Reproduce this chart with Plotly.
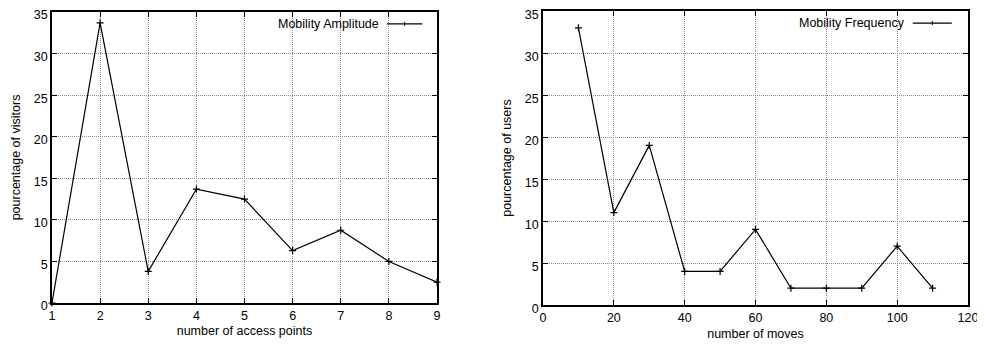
import plotly.graph_objects as go

# Left chart: Mobility Amplitude
ap_x = [1, 2, 3, 4, 5, 6, 7, 8, 9]
ap_y = [0, 33.7, 3.8, 13.7, 12.5, 6.3, 8.75, 5.0, 2.5]
left_xticks = [1, 2, 3, 4, 5, 6, 7, 8, 9]

# Right chart: Mobility Frequency
mv_x = [10, 20, 30, 40, 50, 60, 70, 80, 90, 100, 110]
mv_y = [33, 11, 19, 4, 4, 9, 2, 2, 2, 7, 2]
right_xticks = [0, 20, 40, 60, 80, 100, 120]
y_ticks = [0, 5, 10, 15, 20, 25, 30, 35]

FONT = "Liberation Sans, Arial, sans-serif"

fig = go.Figure()
line_style = dict(color="black", width=1.2)
marker_style = dict(symbol="cross-thin", size=5, line=dict(color="black", width=1.2), color="black")

fig.add_trace(go.Scatter(x=ap_x, y=ap_y, mode="lines+markers", line=line_style,
                         marker=marker_style, name="Mobility Amplitude",
                         xaxis="x", yaxis="y", showlegend=False, cliponaxis=False))
fig.add_trace(go.Scatter(x=mv_x, y=mv_y, mode="lines+markers", line=line_style,
                         marker=marker_style, name="Mobility Frequency",
                         xaxis="x2", yaxis="y2", showlegend=False, cliponaxis=False))

axis_common = dict(showline=True, linecolor="black", linewidth=1.5, mirror="ticks",
                   ticks="inside", ticklen=5, tickcolor="black", tickwidth=1,
                   showgrid=True, gridcolor="#8c8c8c", griddash="1px,1px", gridwidth=1,
                   zeroline=False, automargin=False, ticklabeloverflow="allow",
                   tickfont=dict(family=FONT, size=12.5, color="black"),
                   title_font=dict(family=FONT, size=12.5, color="black"))

# The page body adds an 8px margin, so the figure is 8px smaller and domains are offset.
fig.update_layout(
    width=977, height=341,
    margin=dict(l=0, r=0, t=0, b=0),
    paper_bgcolor="white", plot_bgcolor="white",
    xaxis=dict(domain=[0.0450, 0.4391], range=[1, 9], tickvals=left_xticks,
               title=dict(text="number of access points", standoff=5), anchor="y", **axis_common),
    yaxis=dict(domain=[0.1349, 0.9883], range=[0, 35], tickvals=y_ticks, ticklabelshift=3,
               title=dict(text="pourcentage of visitors", standoff=10), anchor="x", **axis_common),
    xaxis2=dict(domain=[0.5476, 0.9826], range=[0, 120], tickvals=right_xticks,
                title=dict(text="number of moves", standoff=5), anchor="y2", **axis_common),
    yaxis2=dict(domain=[0.1290, 0.9912], range=[0, 35], tickvals=y_ticks, ticklabelshift=4,
                title=dict(text="pourcentage of users", standoff=10), anchor="x2", **axis_common),
    showlegend=False,
)

# Gnuplot-style legends: text followed by a line sample
legends = [("x", "y", "Mobility Amplitude", 0.849), ("x2", "y2", "Mobility Frequency", 0.852)]
for xa, ya, label, xr in legends:
    fig.add_annotation(xref=f"{xa} domain", yref=f"{ya} domain", x=xr, y=0.959,
                       text=label, showarrow=False, xanchor="right", yanchor="middle",
                       xshift=2, font=dict(family=FONT, size=12.5, color="black"))
    fig.add_shape(type="line", xref=f"{xa} domain", yref=f"{ya} domain",
                  x0=0.870, x1=0.962, y0=0.959, y1=0.959, line=dict(color="black", width=1.2))
    fig.add_shape(type="line", xref=f"{xa} domain", yref=f"{ya} domain",
                  x0=0.916, x1=0.916, y0=0.952, y1=0.966, line=dict(color="black", width=1))

fig.write_html("out.html")
